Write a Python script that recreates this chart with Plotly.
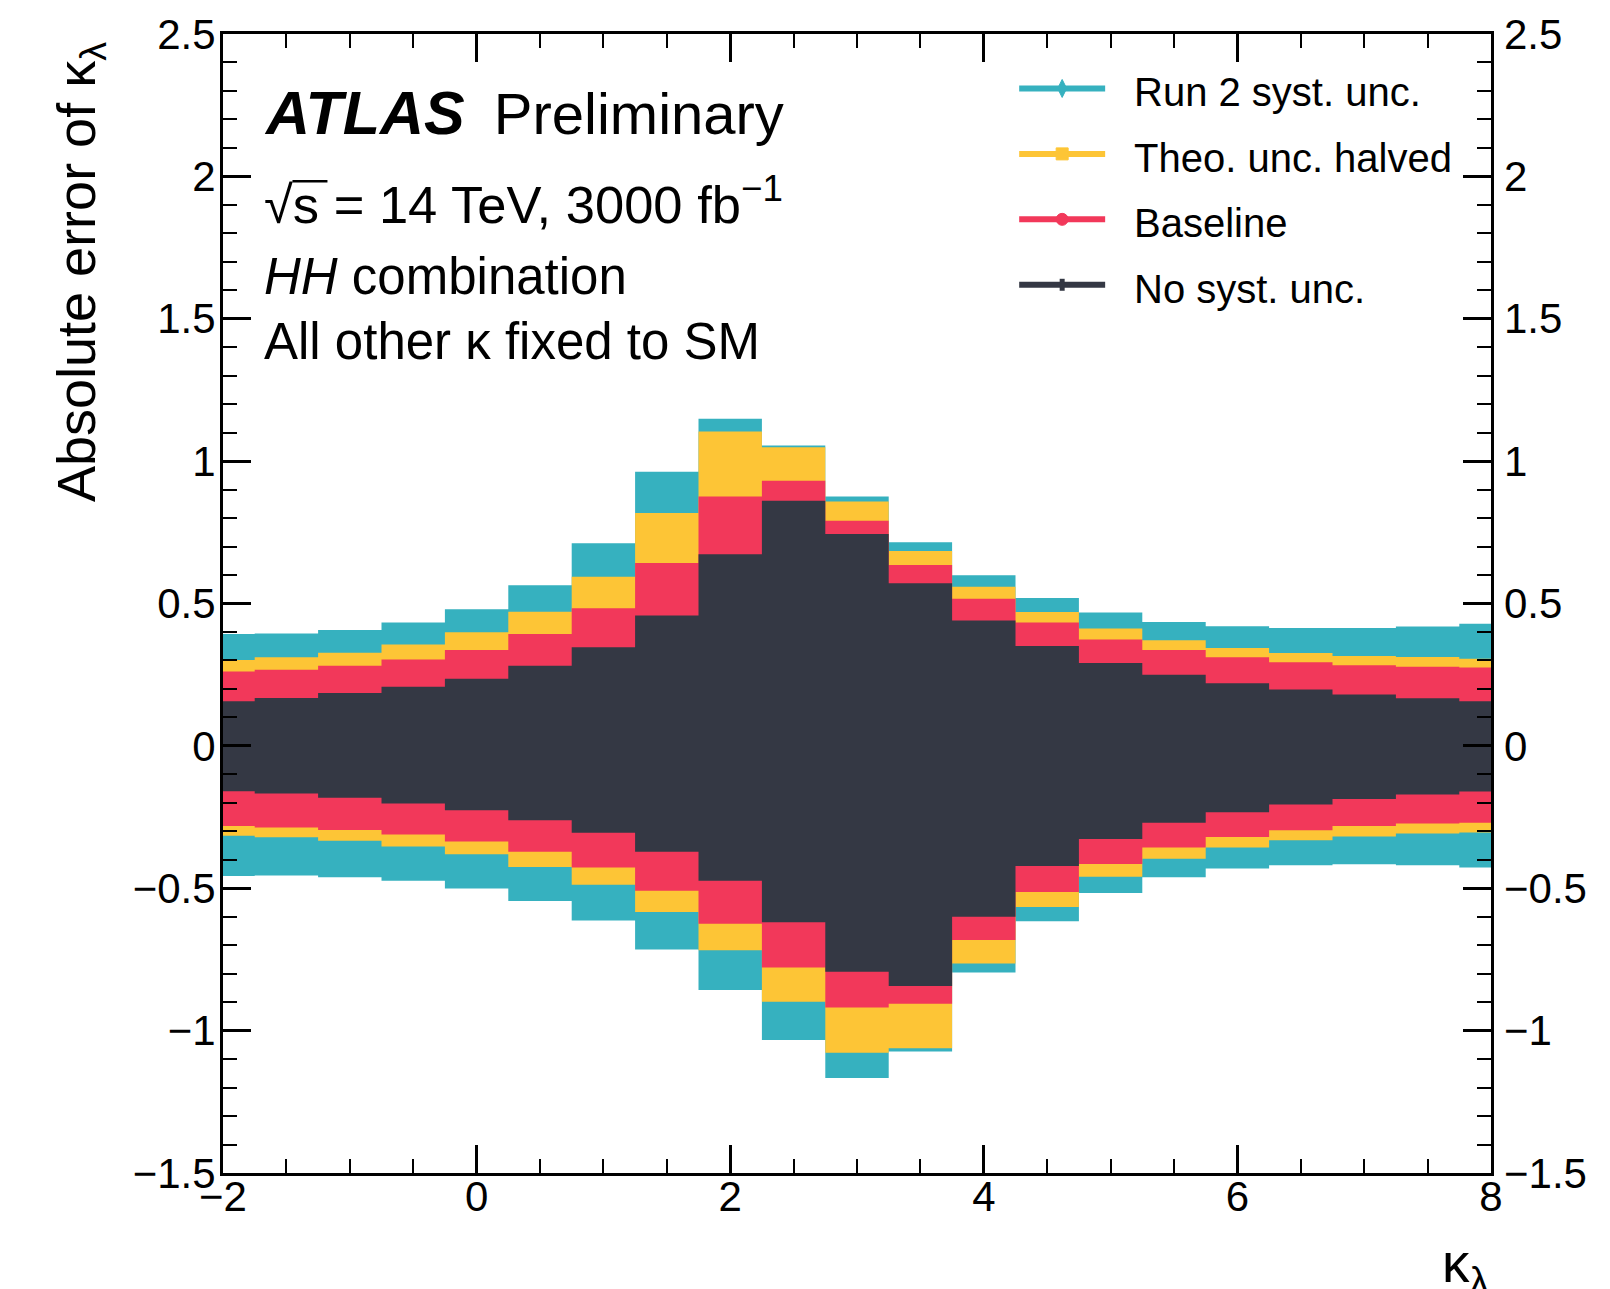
import plotly.graph_objects as go

# kappa_lambda scan points (bin centres)
kl = [-2.0, -1.5, -1.0, -0.5, 0.0, 0.5, 1.0, 1.5, 2.0, 2.5, 3.0,
      3.5, 4.0, 4.5, 5.0, 5.5, 6.0, 6.5, 7.0, 7.5, 8.0]

# upper / lower absolute error of kappa_lambda per scenario
run2_up = [0.393, 0.395, 0.407, 0.433, 0.480, 0.564, 0.712, 0.963, 1.149, 1.055, 0.876,
           0.715, 0.599, 0.519, 0.468, 0.435, 0.420, 0.414, 0.414, 0.419, 0.429]
run2_lo = [-0.457, -0.455, -0.461, -0.474, -0.501, -0.545, -0.613, -0.715, -0.857, -1.033, -1.166,
           -1.073, -0.796, -0.616, -0.517, -0.461, -0.431, -0.419, -0.416, -0.419, -0.427]

theo_up = [0.302, 0.311, 0.327, 0.356, 0.399, 0.471, 0.594, 0.818, 1.104, 1.049, 0.858,
           0.684, 0.559, 0.470, 0.412, 0.371, 0.344, 0.326, 0.316, 0.312, 0.306]
theo_lo = [-0.316, -0.321, -0.333, -0.353, -0.381, -0.425, -0.488, -0.583, -0.718, -0.899, -1.078,
           -1.062, -0.764, -0.566, -0.460, -0.396, -0.357, -0.331, -0.318, -0.308, -0.304]

baseline_up = [0.261, 0.267, 0.281, 0.303, 0.337, 0.393, 0.483, 0.642, 0.876, 0.931, 0.791,
               0.635, 0.517, 0.433, 0.374, 0.337, 0.311, 0.294, 0.283, 0.278, 0.275]
baseline_lo = [-0.281, -0.287, -0.295, -0.311, -0.336, -0.372, -0.427, -0.509, -0.625, -0.778, -0.919,
               -0.906, -0.682, -0.513, -0.415, -0.357, -0.320, -0.296, -0.281, -0.273, -0.270]

nosyst_up = [0.157, 0.168, 0.186, 0.208, 0.236, 0.281, 0.346, 0.458, 0.673, 0.861, 0.744,
             0.571, 0.440, 0.351, 0.291, 0.250, 0.220, 0.198, 0.180, 0.167, 0.157]
nosyst_lo = [-0.159, -0.167, -0.182, -0.202, -0.226, -0.261, -0.305, -0.372, -0.474, -0.619, -0.793,
             -0.843, -0.600, -0.422, -0.327, -0.270, -0.233, -0.206, -0.187, -0.171, -0.160]

series_names = ["Run 2 syst. unc.", "Theo. unc. halved", "Baseline", "No syst. unc."]
series_colors = ["#36b1bf", "#fdc536", "#f2385a", "#343844"]
series_up = [run2_up, theo_up, baseline_up, nosyst_up]
series_lo = [run2_lo, theo_lo, baseline_lo, nosyst_lo]
legend_markers = ["diamond", "square", "circle", "plus"]

x_tickvals = [-2, 0, 2, 4, 6, 8]
x_ticktext = ["\u22122", "0", "2", "4", "6", "8"]
y_tickvals = [-1.5, -1.0, -0.5, 0.0, 0.5, 1.0, 1.5, 2.0, 2.5]
y_ticktext = ["\u22121.5", "\u22121", "\u22120.5", "0", "0.5", "1", "1.5", "2", "2.5"]

FONT = "Liberation Sans, Arial, Helvetica, sans-serif"

# page geometry
W, H = 1610, 1289
ML, MR, MT, MB = 222.5, 119, 33.5, 115.5
PW = W - ML - MR
PH = H - MT - MB


def px(x):
    return (x - ML) / PW


def py(y):
    return (H - MB - y) / PH


fig = go.Figure()

# widest band first, narrower bands stacked on top
for name, color, up, lo in zip(series_names, series_colors, series_up, series_lo):
    fig.add_trace(go.Scatter(x=kl, y=lo, mode="lines", line=dict(width=0, shape="hvh"),
                             hoverinfo="skip", showlegend=False))
    fig.add_trace(go.Scatter(x=kl, y=up, mode="lines", line=dict(width=0, shape="hvh"),
                             fill="tonexty", fillcolor=color, name=name, showlegend=False))

# carrier for the right-hand axis labels
fig.add_trace(go.Scatter(x=kl, y=nosyst_up, yaxis="y2", mode="lines", line=dict(width=0),
                         opacity=0, hoverinfo="skip", showlegend=False))

axis_common = dict(
    ticks="inside", ticklen=28, tickwidth=3, tickcolor="black",
    showline=True, linewidth=3, linecolor="black", mirror="ticks",
    showgrid=False, zeroline=False,
    tickfont=dict(family=FONT, size=42, color="black"),
)

fig.update_layout(
    width=W, height=H,
    margin=dict(l=ML, r=MR, t=MT, b=MB, pad=0),
    paper_bgcolor="white", plot_bgcolor="white",
    font=dict(family=FONT, color="black"),
    showlegend=False,
    xaxis=dict(range=[-2, 8], tickmode="array", tickvals=x_tickvals, ticktext=x_ticktext,
               minor=dict(ticks="inside", ticklen=14, tickwidth=2, tickcolor="black",
                          dtick=0.5, tick0=0, showgrid=False),
               ticklabelstandoff=-15, **axis_common),
    yaxis=dict(range=[-1.5, 2.5], tickmode="array", tickvals=y_tickvals, ticktext=y_ticktext,
               minor=dict(ticks="inside", ticklen=14, tickwidth=2, tickcolor="black",
                          dtick=0.1, tick0=0, showgrid=False),
               ticklabelstandoff=-4, **axis_common),
    yaxis2=dict(range=[-1.5, 2.5], overlaying="y", side="right", tickmode="array",
                tickvals=y_tickvals, ticktext=y_ticktext, ticks="", showline=False,
                showgrid=False, zeroline=False, ticklabelstandoff=12,
                tickfont=dict(family=FONT, size=42, color="black")),
)

annotations = []
shapes = []

# experiment label and info text
text_x = px(262)
annotations.append(dict(
    xref="paper", yref="paper", x=text_x, y=py(113), xanchor="left", yanchor="middle",
    text="<b><i><span style='font-size:61px'>ATLAS</span></i></b>\u2002Preliminary",
    showarrow=False, font=dict(family=FONT, size=58, color="black")))
info_lines = ["\u221as = 14 TeV, 3000 fb<sup>\u22121</sup>",
              "<i>HH</i> combination",
              "All other \u03ba fixed to SM"]
info_sizes = [52.5, 51, 51]
info_y = [201, 276, 341]
for txt, size, yy in zip(info_lines, info_sizes, info_y):
    annotations.append(dict(
        xref="paper", yref="paper", x=text_x, y=py(yy), xanchor="left", yanchor="middle",
        text=txt, showarrow=False, font=dict(family=FONT, size=size, color="black")))
# overline of the square root
shapes.append(dict(type="line", xref="paper", yref="paper",
                   x0=px(292), x1=px(327), y0=py(181), y1=py(181),
                   line=dict(color="black", width=2.5)))

# axis titles
annotations.append(dict(
    xref="paper", yref="paper", x=px(80), y=py(40), xanchor="center", yanchor="top",
    textangle=-90, text="Absolute error of \u03ba<sub>\u03bb</sub>", showarrow=False,
    font=dict(family=FONT, size=54, color="black")))
annotations.append(dict(
    xref="paper", yref="paper", x=1.0, y=py(1268), xanchor="right", yanchor="middle",
    text="\u03ba<sub>\u03bb</sub>", showarrow=False,
    font=dict(family=FONT, size=55, color="black")))

# legend: line sample with marker, then label
leg_x0, leg_x1, leg_text_x = 1019, 1105, 1132
leg_y0, leg_dy = 88, 65.5
for i, (name, color, mk) in enumerate(zip(series_names, series_colors, legend_markers)):
    yy = leg_y0 + i * leg_dy
    xc = (leg_x0 + leg_x1) / 2
    shapes.append(dict(type="line", xref="paper", yref="paper",
                       x0=px(leg_x0), x1=px(leg_x1), y0=py(yy), y1=py(yy),
                       line=dict(color=color, width=6)))
    if mk == "diamond":
        path = "M {} {} L {} {} L {} {} L {} {} Z".format(
            px(xc), py(yy - 9), px(xc + 4.5), py(yy), px(xc), py(yy + 9), px(xc - 4.5), py(yy))
        shapes.append(dict(type="path", xref="paper", yref="paper", path=path,
                           fillcolor=color, line=dict(color=color, width=1)))
    elif mk == "square":
        shapes.append(dict(type="rect", xref="paper", yref="paper",
                           x0=px(xc - 6), x1=px(xc + 6), y0=py(yy - 6), y1=py(yy + 6),
                           fillcolor=color, line=dict(color=color, width=1)))
    elif mk == "circle":
        shapes.append(dict(type="circle", xref="paper", yref="paper",
                           x0=px(xc - 6), x1=px(xc + 6), y0=py(yy - 6), y1=py(yy + 6),
                           fillcolor=color, line=dict(color=color, width=1)))
    else:
        shapes.append(dict(type="line", xref="paper", yref="paper",
                           x0=px(xc), x1=px(xc), y0=py(yy - 6), y1=py(yy + 6),
                           line=dict(color=color, width=5)))
    annotations.append(dict(
        xref="paper", yref="paper", x=px(leg_text_x), y=py(yy + 4), xanchor="left",
        yanchor="middle", text=name, showarrow=False,
        font=dict(family=FONT, size=40, color="black")))

fig.update_layout(annotations=annotations, shapes=shapes)

fig.write_html("out.html")
